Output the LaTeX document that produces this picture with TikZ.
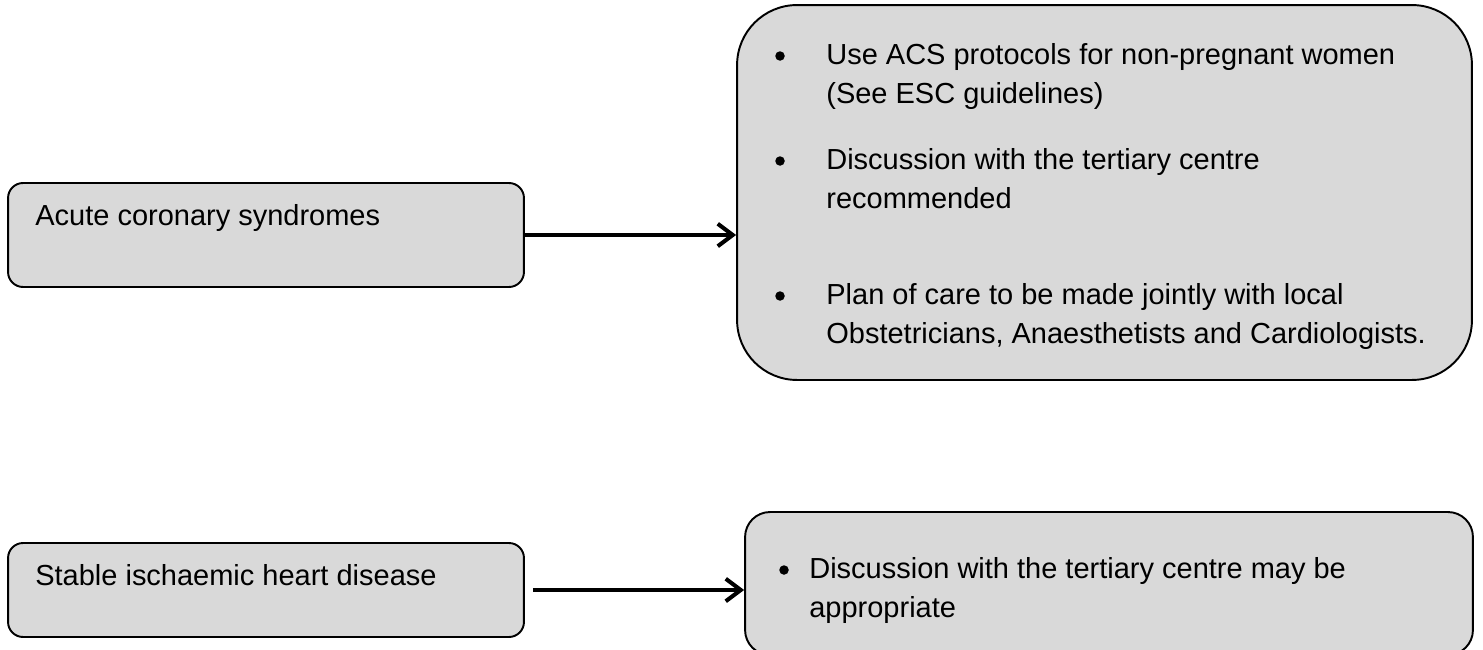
\documentclass[tikz,border=0pt]{standalone}
\usepackage{fontspec}
\setmainfont{Liberation Sans}
\usepackage{xcolor}
\usetikzlibrary{arrows.meta}
\definecolor{boxgrey}{HTML}{D9D9D9}

\begin{document}
\begin{tikzpicture}[x=0.02cm,y=-0.02cm]
\tikzstyle{every node}=[font=\fontsize{16.5}{22}\selectfont]
\tikzstyle{greybox}=[draw=black, fill=boxgrey, line width=1.1pt, inner sep=0pt]
\tikzstyle{txt}=[anchor=base west, inner sep=0pt]
\tikzstyle{dot}=[circle, fill=black, inner sep=0pt, minimum size=0.19cm]
\tikzstyle{link}=[line width=2.3pt, -{Straight Barb[length=0.3cm,width=0.45cm]}]
\useasboundingbox (0,0) rectangle (1483,649);
% left boxes
\node [greybox, rounded corners=0.3cm, minimum width=10.32cm, minimum height=2.08cm] (acs) at (266,235) {};
\node [greybox, rounded corners=0.3cm, minimum width=10.32cm, minimum height=1.88cm] (sihd) at (266,590) {};
% right boxes
\node [greybox, rounded corners=1.2cm, minimum width=14.7cm, minimum height=7.5cm] (acsplan) at (1104.5,192.5) {};
\node [greybox, rounded corners=0.5cm, minimum width=14.56cm, minimum height=2.86cm] (sihdplan) at (1109,583.5) {};
% texts
\node [txt] (acstext) at (35,225) {Acute coronary syndromes};
\node [txt] (sihdtext) at (35,585) {Stable ischaemic heart disease};
\node [dot] (dot1) at (780,56) {};
\node [txt] (itema) at (826,64) {Use ACS protocols for non-pregnant women};
\node [txt] (itemb) at (826,103) {(See ESC guidelines)};
\node [dot] (dot2) at (780,161) {};
\node [txt] (itemc) at (826,169) {Discussion with the tertiary centre};
\node [txt] (itemd) at (826,208) {recommended};
\node [dot] (dot3) at (780,296) {};
\node [txt] (iteme) at (826,304) {Plan of care to be made jointly with local};
\node [txt] (itemf) at (826,343) {Obstetricians, Anaesthetists and Cardiologists.};
\node [dot] (dot4) at (784,570) {};
\node [txt] (itemg) at (809,578) {Discussion with the tertiary centre may be};
\node [txt] (itemh) at (809,617) {appropriate};
% arrows
\draw [link] (acs.east) -- (acs.east -| acsplan.west);
\draw [link, shorten <=0.16cm] (sihd.east) -- (sihd.east -| sihdplan.west);
\end{tikzpicture}
\end{document}
